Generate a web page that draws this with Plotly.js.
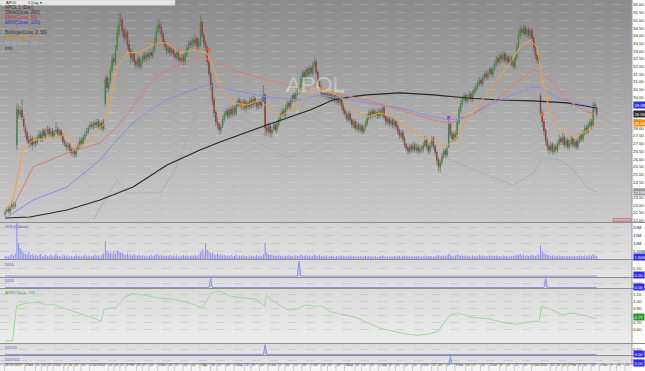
<!DOCTYPE html>
<html><head><meta charset="utf-8">
<script src="https://cdn.plot.ly/plotly-3.0.1.min.js"></script>
<style>
html,body{margin:0;padding:0;background:#fff;}
#chart{width:645px;height:371px;background:
 linear-gradient(to right, rgba(255,255,255,0) 632px, #ffffff 632px),
 linear-gradient(to bottom, #8b8b8b 0px, #cacaca 222px, #d2d2d2 222px, #e0e0e0 259px, #d8d8d8 259px, #e3e3e3 277px, #d8d8d8 277px, #e3e3e3 288px, #dadada 288px, #ececec 343px, #dadada 343px, #e6e6e6 355px, #dadada 355px, #e6e6e6 364px, #f3f3f3 364px);}
</style></head><body><div id="chart"></div>
<script>
// ---------- daily prices (trading-day index 0..348) ----------
const opens = [
22.40,22.60,22.75,22.55,22.90,23.00,22.95,26.90,29.20,28.85,
29.20,28.60,28.05,27.75,27.25,26.95,27.35,26.95,27.15,27.05,
27.35,27.65,27.25,27.85,27.45,27.75,27.95,27.55,27.85,27.45,
27.75,27.95,27.55,27.85,27.55,27.15,26.95,26.75,26.95,26.65,
26.35,26.55,26.25,26.65,26.85,27.25,26.95,27.35,27.65,27.75,
28.05,28.25,28.05,28.35,28.15,28.45,28.05,28.35,27.95,29.60,
31.30,30.55,31.05,31.75,32.55,32.25,33.15,34.10,34.85,35.05,
34.35,33.85,34.25,33.45,33.05,32.45,32.85,32.35,32.05,32.55,
31.95,32.35,32.75,32.45,32.85,32.55,32.95,32.65,33.05,33.55,
34.25,34.75,34.55,34.15,33.65,33.35,32.95,33.25,32.85,33.15,
32.85,32.55,32.95,32.55,32.35,32.65,32.25,32.75,33.15,33.55,
33.35,33.75,33.45,33.85,33.25,33.40,34.90,34.05,33.55,33.25,
32.35,31.55,30.85,29.85,29.05,28.45,28.25,27.85,28.15,28.55,
28.85,29.15,28.75,29.25,28.85,29.35,28.95,29.45,29.85,29.65,
29.35,29.75,29.25,29.65,29.35,29.85,29.45,29.95,29.65,29.35,
29.75,29.45,29.85,30.20,28.05,27.75,28.15,27.65,27.95,28.25,
27.85,28.25,28.55,28.85,29.15,28.85,29.25,29.65,29.35,29.75,
30.15,29.85,30.25,30.65,30.45,31.15,31.65,31.25,31.85,31.45,
31.95,31.55,32.05,32.35,31.65,31.05,30.65,30.15,30.45,30.05,
30.35,29.95,30.25,29.85,30.15,29.75,30.05,29.65,29.95,29.45,
29.15,28.95,28.55,28.95,28.55,28.15,28.45,27.95,28.25,27.85,
28.15,27.75,28.05,28.25,28.65,29.05,28.75,29.15,28.85,29.05,
28.75,29.15,28.85,29.35,28.75,28.35,28.65,28.25,28.55,28.15,
28.45,28.15,27.85,27.45,27.75,27.35,26.95,26.75,26.45,26.85,
26.55,26.95,26.55,26.85,26.45,26.75,26.55,26.85,27.25,26.85,
26.45,26.85,27.35,26.85,26.45,25.95,25.45,25.75,26.15,26.55,
26.25,26.80,28.25,27.65,27.25,27.65,27.45,28.35,29.15,29.55,
29.85,30.15,29.75,29.95,30.25,29.85,30.25,30.45,30.65,30.85,
31.15,30.85,31.25,31.55,31.25,31.55,31.85,31.45,31.85,32.15,
32.55,32.25,32.75,32.45,32.85,32.35,32.65,32.25,32.55,32.25,
31.95,32.55,33.25,33.95,34.45,34.15,34.55,34.05,34.45,33.95,
34.35,33.85,33.25,32.75,32.35,30.10,29.05,28.45,27.85,27.25,
26.85,26.55,26.95,26.45,26.85,26.55,26.95,27.35,27.05,27.45,
26.85,27.25,26.75,26.95,27.35,26.85,27.15,26.75,27.15,27.55,
27.25,27.65,28.05,27.75,28.15,28.45,28.20,29.55,29.35];
const highs = [
22.70,22.85,22.90,23.00,23.30,23.20,23.25,29.60,29.50,29.40,
29.85,28.80,28.20,27.90,27.50,27.60,27.50,27.40,27.35,27.60,
27.85,27.80,28.00,28.00,27.95,28.15,28.10,28.00,28.00,27.90,
28.40,28.10,28.00,27.95,27.70,27.30,27.10,27.10,27.05,26.80,
26.75,26.70,26.80,27.10,27.40,27.40,27.60,27.80,28.00,28.20,
28.40,28.45,28.50,28.50,28.60,28.60,28.50,28.50,28.60,31.40,
31.50,31.30,32.10,32.80,32.90,33.40,34.60,35.40,35.50,35.20,
34.60,34.50,34.40,33.70,33.20,33.10,33.00,32.50,32.80,32.70,
32.60,32.90,32.95,33.00,33.00,33.10,33.10,33.30,33.90,34.60,
35.10,35.00,34.80,34.30,33.80,33.50,33.40,33.40,33.30,33.30,
33.00,33.10,33.10,32.70,32.80,32.80,33.00,33.40,33.70,33.70,
33.90,33.90,34.00,33.95,33.80,35.30,35.00,34.20,33.70,33.40,
32.50,31.70,31.00,30.00,29.20,28.70,28.40,28.30,28.80,29.10,
29.30,29.30,29.40,29.40,29.50,29.50,29.70,30.00,30.00,29.80,
29.90,29.90,29.80,29.80,30.00,30.00,30.10,30.10,29.80,29.90,
29.90,30.00,30.80,30.30,28.30,28.40,28.30,28.10,28.40,28.40,
28.50,28.80,29.00,29.30,29.30,29.50,29.80,29.80,30.00,30.30,
30.30,30.50,30.80,30.80,31.40,31.80,31.80,32.00,32.00,32.10,
32.10,32.30,32.60,32.45,31.80,31.20,30.80,30.60,30.60,30.50,
30.50,30.40,30.40,30.30,30.30,30.20,30.20,30.10,30.10,29.60,
29.30,29.10,29.10,29.10,28.70,28.60,28.60,28.40,28.40,28.30,
28.30,28.20,28.50,28.90,29.20,29.20,29.30,29.30,29.20,29.20,
29.30,29.30,29.60,29.50,28.90,28.80,28.80,28.70,28.70,28.60,
28.60,28.30,28.00,27.90,27.90,27.50,27.10,26.90,27.00,27.00,
27.10,27.10,27.00,27.00,26.90,26.90,27.10,27.50,27.40,27.00,
27.10,27.50,27.50,27.00,26.60,26.10,26.00,26.40,26.70,26.70,
26.90,28.60,28.40,27.80,27.80,27.80,28.60,29.40,29.80,30.10,
30.30,30.30,30.20,30.40,30.40,30.50,30.70,30.90,31.10,31.30,
31.30,31.50,31.70,31.70,31.80,32.00,32.00,32.10,32.40,32.70,
32.70,32.90,32.90,33.00,33.00,32.80,32.80,32.70,32.70,32.40,
32.80,33.50,34.30,34.70,34.60,34.70,34.70,34.60,34.60,34.50,
34.50,34.00,33.40,32.90,32.80,30.30,29.20,28.60,28.00,27.40,
27.00,27.10,27.10,27.00,27.00,27.20,27.60,27.50,27.70,27.60,
27.40,27.40,27.20,27.50,27.50,27.30,27.30,27.40,27.70,27.70,
27.90,28.20,28.20,28.40,28.60,28.60,29.70,29.70,29.50];
const lows = [
22.25,22.45,22.45,22.40,22.80,22.75,22.80,26.60,28.60,28.70,
28.50,27.90,27.40,27.00,26.70,26.80,26.60,26.80,26.75,26.90,
27.20,27.10,27.10,27.30,27.30,27.60,27.40,27.40,27.30,27.30,
27.60,27.40,27.40,27.30,26.90,26.80,26.55,26.55,26.35,26.20,
26.15,26.05,26.10,26.50,26.70,26.80,26.85,27.20,27.50,27.60,
27.90,27.95,27.90,28.00,28.00,27.90,27.90,27.80,27.80,29.40,
30.30,30.40,30.90,31.60,32.00,32.10,33.00,33.90,34.60,34.00,
33.60,33.70,33.10,32.80,32.20,32.30,32.00,31.80,31.90,31.80,
31.80,32.20,32.30,32.30,32.40,32.40,32.50,32.50,32.90,33.40,
34.10,34.20,33.90,33.40,33.10,32.80,32.80,32.70,32.70,32.60,
32.40,32.40,32.30,32.20,32.20,32.10,32.10,32.60,33.00,33.20,
33.20,33.30,33.30,33.10,33.10,33.30,33.80,33.30,33.00,32.10,
31.30,30.50,29.50,28.70,28.10,27.90,27.60,27.60,28.00,28.40,
28.70,28.60,28.60,28.70,28.70,28.80,28.80,29.30,29.40,29.20,
29.20,29.10,29.10,29.20,29.20,29.30,29.30,29.40,29.20,29.20,
29.30,29.30,29.70,27.50,27.50,27.60,27.40,27.40,27.80,27.70,
27.70,28.10,28.40,28.70,28.70,28.70,29.10,29.20,29.20,29.60,
29.70,29.70,30.10,30.20,30.30,31.00,31.10,31.10,31.30,31.30,
31.40,31.40,31.90,31.40,30.80,30.40,30.00,30.00,29.90,29.90,
29.80,29.80,29.70,29.70,29.60,29.60,29.50,29.50,29.20,28.90,
28.70,28.40,28.40,28.30,28.00,28.00,27.80,27.80,27.70,27.70,
27.60,27.60,27.90,28.10,28.50,28.60,28.60,28.70,28.70,28.60,
28.60,28.70,28.70,28.50,28.20,28.20,28.10,28.10,28.00,28.00,
27.90,27.60,27.30,27.30,27.10,26.70,26.50,26.30,26.30,26.40,
26.40,26.40,26.40,26.30,26.30,26.40,26.40,26.70,26.60,26.30,
26.30,26.70,26.60,26.20,25.60,25.20,25.10,25.60,26.00,26.10,
26.10,26.70,27.40,27.10,27.10,27.20,27.30,28.20,29.00,29.40,
29.70,29.60,29.60,29.80,29.70,29.70,30.10,30.30,30.50,30.70,
30.70,30.70,31.10,31.10,31.10,31.40,31.30,31.30,31.70,32.00,
32.10,32.10,32.30,32.30,32.20,32.20,32.10,32.10,32.00,31.80,
31.80,32.40,33.10,33.80,34.00,34.00,33.90,33.90,33.80,33.80,
33.60,33.00,32.50,32.20,32.20,28.80,28.10,27.50,26.90,26.50,
26.30,26.40,26.30,26.30,26.40,26.40,26.80,26.90,26.90,26.70,
26.70,26.60,26.60,26.80,26.70,26.70,26.60,26.60,27.00,27.10,
27.10,27.50,27.60,27.60,28.00,27.90,28.10,29.00,28.70];
const closes = [
22.55,22.70,22.60,22.85,23.05,22.90,23.10,29.30,28.90,29.10,
28.70,28.10,27.70,27.20,27.00,27.30,26.90,27.10,27.00,27.40,
27.60,27.30,27.80,27.50,27.70,27.90,27.60,27.80,27.50,27.70,
27.90,27.60,27.80,27.50,27.10,27.00,26.80,26.90,26.60,26.40,
26.50,26.30,26.60,26.90,27.20,27.00,27.40,27.60,27.80,28.00,
28.20,28.10,28.30,28.20,28.40,28.10,28.30,28.00,28.40,31.20,
30.60,31.00,31.80,32.50,32.30,33.10,34.20,34.80,35.00,34.30,
33.90,34.20,33.40,33.00,32.50,32.80,32.30,32.10,32.50,32.00,
32.40,32.70,32.50,32.80,32.60,32.90,32.70,33.00,33.60,34.30,
34.70,34.50,34.10,33.60,33.30,33.00,33.20,32.90,33.10,32.80,
32.60,32.90,32.50,32.40,32.60,32.30,32.80,33.20,33.50,33.40,
33.70,33.50,33.80,33.30,33.60,35.00,34.00,33.50,33.20,32.30,
31.50,30.80,29.80,29.00,28.40,28.20,27.90,28.10,28.60,28.90,
29.10,28.80,29.20,28.90,29.30,29.00,29.50,29.80,29.60,29.40,
29.70,29.30,29.60,29.40,29.80,29.50,29.90,29.60,29.40,29.70,
29.50,29.80,30.20,28.00,27.80,28.10,27.70,27.90,28.20,27.90,
28.30,28.60,28.80,29.10,28.90,29.30,29.60,29.40,29.80,30.10,
29.90,30.30,30.60,30.40,31.20,31.60,31.30,31.80,31.50,31.90,
31.60,32.10,32.30,31.60,31.00,30.60,30.20,30.40,30.10,30.30,
30.00,30.20,29.90,30.10,29.80,30.00,29.70,29.90,29.40,29.10,
28.90,28.60,28.90,28.50,28.20,28.40,28.00,28.20,27.90,28.10,
27.80,28.00,28.30,28.70,29.00,28.80,29.10,28.90,29.00,28.80,
29.10,28.90,29.30,28.70,28.40,28.60,28.30,28.50,28.20,28.40,
28.10,27.80,27.50,27.70,27.30,26.90,26.70,26.50,26.80,26.60,
26.90,26.60,26.80,26.50,26.70,26.60,26.90,27.20,26.80,26.50,
26.90,27.30,26.80,26.40,25.90,25.50,25.80,26.20,26.50,26.30,
26.70,28.30,27.60,27.30,27.60,27.40,28.40,29.20,29.60,29.90,
30.10,29.80,30.00,30.20,29.90,30.30,30.50,30.70,30.90,31.10,
30.90,31.30,31.50,31.30,31.60,31.80,31.50,31.90,32.20,32.50,
32.30,32.70,32.50,32.80,32.40,32.60,32.30,32.50,32.20,32.00,
32.60,33.30,34.00,34.40,34.20,34.50,34.10,34.40,34.00,34.30,
33.80,33.20,32.70,32.40,32.60,29.00,28.40,27.80,27.20,26.80,
26.60,26.90,26.50,26.80,26.60,27.00,27.30,27.10,27.40,26.90,
27.20,26.80,27.00,27.30,26.90,27.10,26.80,27.20,27.50,27.30,
27.70,28.00,27.80,28.20,28.40,28.10,29.50,29.30,28.90];
// volume in millions
const volumes = [
1.8,2.1,1.6,2.4,3.0,2.2,3.6,23.0,10.2,7.1,
5.3,4.1,3.4,2.9,4.6,2.5,3.2,2.1,2.7,1.9,
2.4,3.1,1.8,2.2,2.6,1.7,2.0,2.8,1.6,2.3,
3.4,1.9,2.1,1.5,2.6,2.2,1.8,2.4,1.6,2.0,
1.4,1.9,2.5,1.7,2.2,1.5,2.0,2.7,1.8,2.3,
1.6,2.1,1.9,2.8,1.7,2.4,1.5,2.9,3.6,11.5,
5.2,3.8,4.3,3.1,4.6,3.3,5.4,4.8,3.9,4.2,
3.1,2.6,3.5,2.4,2.9,2.1,3.3,2.2,1.9,2.7,
2.0,2.5,1.8,2.3,1.7,2.1,2.6,1.9,2.4,3.2,
2.8,2.2,2.6,1.9,2.3,1.7,2.0,2.5,1.6,2.2,
1.8,2.4,1.5,2.1,1.7,2.6,1.9,2.3,1.6,2.0,
2.2,1.8,2.5,1.7,2.9,4.4,6.3,4.1,10.0,5.8,
4.9,3.6,4.2,3.3,2.8,3.5,2.4,2.9,2.2,2.6,
1.9,2.3,1.7,2.5,1.8,2.1,2.7,1.6,2.2,1.9,
2.4,1.7,2.0,1.5,2.3,1.8,2.1,1.6,2.5,1.9,
2.2,1.8,3.1,10.5,4.4,3.0,2.5,2.8,2.1,2.4,
1.9,2.6,2.0,2.3,1.7,2.2,1.9,2.5,1.8,2.1,
1.6,2.4,2.0,1.8,2.7,2.2,1.9,2.6,1.7,2.3,
1.8,2.1,2.5,2.2,1.9,2.4,1.7,2.0,1.6,2.2,
1.5,1.9,1.7,2.1,1.4,1.8,1.6,2.0,2.3,1.7,
1.9,1.5,1.8,2.2,1.6,1.9,1.4,1.8,1.6,2.0,
1.5,1.7,2.1,1.6,1.9,1.4,1.8,1.5,1.7,1.3,
1.6,1.9,2.3,1.7,1.5,1.8,1.4,1.7,1.5,1.9,
1.6,1.8,2.1,1.5,1.9,2.2,1.7,2.0,1.6,1.8,
1.5,1.9,1.6,2.1,1.7,1.5,1.8,2.2,1.6,1.9,
1.7,2.0,1.5,1.8,2.3,2.6,2.0,1.8,2.2,1.7,
2.4,3.3,2.5,2.0,1.8,2.2,2.9,2.6,2.1,2.4,
1.9,2.2,1.7,2.0,1.6,2.3,1.8,2.1,1.7,2.5,
1.9,2.2,1.6,2.0,1.8,2.4,1.7,2.1,1.9,2.3,
1.8,2.0,1.6,2.2,1.7,1.9,1.5,2.1,1.8,2.0,
2.3,2.8,2.5,3.4,2.2,2.9,2.0,2.4,1.9,2.1,
2.6,2.3,2.0,2.4,3.2,8.6,5.0,3.8,3.1,2.7,
2.4,2.0,2.3,1.8,2.1,1.7,2.2,1.9,2.0,1.6,
1.9,1.7,2.1,1.6,1.8,2.0,1.5,1.9,2.2,1.7,
2.0,2.3,1.8,2.1,2.4,1.9,3.0,2.2,1.8];
// weekly date labels (first trading day of each week)
const tickLabels = ["28 Oct 2013","4 Nov","11","18","25","2 Dec","9","16","23","30","6 Jan 2014","13","20","27","3 Feb","10","17","24","3 Mar","10","17","24","31","7 Apr","14","21","28","5 May","12","19","26","2 Jun","9","16","23","30","7 Jul","14","21","28","4 Aug","11","18","25","1 Sep","8","15","22","29","6 Oct","13","20","27","3 Nov","10","17","24","1 Dec","8","15","22","29","5 Jan 2015","12","19","26","2 Feb","9","16","23","2 Mar","9","16","23"];
// ---------- indicator lines (index, value) ----------
const sma200Idx = [0,14.7,36.5,55.9,75.3,95.3,114.7,126.5,154.1,179.4,192.9,202.9,212.9,232.4,251.8,271.8,291.2,310.6,330.6,348];
const sma200Val = [22.17,22.23,22.69,23.34,24.18,25.61,26.58,27.10,28.21,29.18,29.83,30.03,30.16,30.29,30.16,29.96,29.83,29.77,29.64,29.31];
const sma50Idx = [2.9,16.5,36.5,55.9,65.9,75.3,85.3,95.3,104.7,114.7,122.4,134.1,154.1,173.5,192.9,212.9,232.4,251.8,261.8,271.8,291.2,302.9,310.6,314.7,322.4,330.6,340,348];
const sma50Val = [22.49,25.48,26.39,27.04,28.08,29.38,30.94,31.78,32.23,32.56,32.43,31.78,31.13,30.61,30.29,29.83,29.18,28.53,28.34,28.73,30.03,31.13,31.78,31.65,30.94,29.83,29.18,28.86];
const ema100Idx = [1.2,16.5,36.5,55.9,65.9,75.3,85.3,95.3,107.1,118.8,134.1,154.1,173.5,185.3,192.9,212.9,232.4,251.8,261.8,271.8,291.2,310.6,314.7,324.7,334.1,348];
const ema100Val = [22.23,23.34,24.18,25.94,27.23,28.34,29.18,29.83,30.35,30.81,30.48,30.03,29.83,30.16,30.03,29.64,29.31,28.73,28.53,28.73,29.83,30.68,30.61,30.03,29.64,29.38];
const ema10Idx = [0,4.7,10.6,16.5,26.5,36.5,42.4,48.2,55.9,58.8,61.8,65.9,71.8,79.4,89.4,95.3,102.9,110.6,118.8,122.4,126.5,134.1,142.4,150,155.9,161.8,169.4,177.6,183.5,189.4,197.1,207.1,212.9,220.6,228.2,236.5,244.1,251.8,257.6,263.5,269.4,277.6,289.4,297.1,302.9,308.8,312.9,316.5,320.6,326.5,334.1,340,345.9,348];
const ema10Val = [22.70,23.34,26.58,27.23,27.36,27.56,26.78,27.04,28.01,28.34,29.83,31.97,32.88,32.95,33.53,33.53,32.88,33.08,32.88,31.97,30.68,29.64,29.51,29.83,29.18,28.73,29.38,30.03,30.68,30.48,30.03,28.99,28.73,28.99,28.73,28.08,27.43,27.23,26.78,27.10,28.08,29.38,31.13,32.23,33.27,33.73,33.27,30.94,28.99,28.08,27.43,27.69,28.08,28.34];
const bbLowIdx = [51.8,65.9,71.8,91.2,100,108.8,114.7,126.5,134.1,145.9,160,167.6,173.5,181.2,192.9,212.9,232.4,251.8,271.8,291.2,298.8,310.6,316.5,326.5,334.1,342.4,348];
const bbLowVal = [22.03,24.64,23.79,23.79,25.29,27.88,29.51,29.18,28.08,27.23,26.39,26.06,26.39,27.04,27.36,27.43,27.23,26.39,25.48,24.64,24.31,25.09,26.06,25.94,25.29,24.18,23.86];
const atrIdx = [0,4.4,6.8,11.6,18.9,23.8,28.6,33.5,38.4,45.6,52.9,56.6,58.3,65.1,70,74.8,82.1,89.4,99.2,108.8,116.2,118.6,121,125.9,133.2,140.5,147.8,152.6,153.8,157.5,162.4,167.2,172.1,176.9,181.8,186.6,191.5,198.8,206.1,213.4,220.7,228,235.3,242.6,249.9,254.7,259.6,262,266.9,274.1,283.9,293.6,300.9,305.8,310.6,314.3,315.5,320.4,327.6,334.9,342.2,347,348];
const atrVal = [0.432,0.432,0.932,0.972,0.992,0.952,0.952,0.912,0.872,0.812,0.752,0.712,0.892,0.912,1.052,1.112,1.092,1.052,1.032,0.972,0.912,1.012,1.112,1.152,1.072,1.052,1.032,0.932,1.092,1.012,0.932,0.872,0.892,0.952,0.932,0.932,0.852,0.812,0.772,0.692,0.612,0.572,0.532,0.512,0.532,0.572,0.732,0.812,0.832,0.772,0.752,0.692,0.672,0.692,0.712,0.712,0.932,0.892,0.812,0.832,0.792,0.752,0.77];
// event-detector panels (0 / 1 pulses)
const dd1Idx = [0,172,173,174,348],   dd1Val = [0,0,1,0,0];
const dd2Idx = [0,120,121,122,317,318,319,348], dd2Val = [0,0,1,0,0,1,0,0];
const ddv0Idx = [0,152,153,154,348],  ddv0Val = [0,0,1,0,0];
const ddv02Idx = [0,261,262,263,348], ddv02Val = [0,0,1,0,0];
// signal markers on the price panel
const sigOrangeIdx = [120,316], sigOrangeVal = [33.10,28.90];
const sigPlusIdx = [140], sigPlusVal = [29.50];
const sigBlueIdx = [152], sigBlueVal = [29.80];
const sigGreenIdx = [172], sigGreenVal = [29.10];
const sigMagIdx = [261], sigMagVal = [28.70];

// ---------- build ----------
const FONT = 'Liberation Sans, Arial, sans-serif';
const UP = '#2f9f2f', DOWN = '#a82626';
const N = closes.length;
const idx = closes.map((_, i) => i);
const wx = [], wy = [];
for (let i = 0; i < N; i++) { wx.push(i, i, null); wy.push(lows[i], highs[i], null); }
const bodyBase = idx.map(i => Math.min(opens[i], closes[i]));
const bodyLen = idx.map(i => Math.abs(closes[i] - opens[i]));
const bodyCol = idx.map(i => closes[i] >= opens[i] ? UP : DOWN);

const PH = 364, PW = 632;
const XR = [-2.94, 368.8];
const UNIT = PW / (XR[1] - XR[0]);   // px per trading day
const py = p => 1 - p / PH;
const pxp = p => p / PW;

// date labels: weekly positions, pushed right when a longer label before them would collide
const TICKFS = 3.0, CHARW = 1.62, GAP = 2.6;
const tickPos = [];
let nextFree = -Infinity;
tickLabels.forEach((t, k) => {
  const natural = k * 5;
  const pos = Math.max(natural, nextFree);
  tickPos.push(pos);
  nextFree = pos + (t.length * CHARW + GAP) / UNIT;
});

const line = (x, y, color, width, yaxis, extra) => Object.assign({type:'scatter', mode:'lines', x, y, xaxis:'x', yaxis, line:{color, width}, hoverinfo:'skip'}, extra || {});

const traces = [
  line(bbLowIdx, bbLowVal, '#a9a9a9', 0.8, 'y'),
  line(wx, wy, '#6a6a6a', 0.7, 'y'),
  {type:'bar', x: idx, y: bodyLen, base: bodyBase, width: 0.9, xaxis:'x', yaxis:'y', marker:{color: bodyCol, line:{width:0}}, hoverinfo:'skip'},
  line(sma200Idx, sma200Val, '#262626', 1.1, 'y'),
  line(ema100Idx, ema100Val, '#8a8ae6', 1, 'y'),
  line(sma50Idx, sma50Val, '#dc7c72', 1, 'y'),
  line(ema10Idx, ema10Val, '#f2a23a', 1, 'y'),
  {type:'scatter', mode:'markers', x: sigOrangeIdx, y: sigOrangeVal, xaxis:'x', yaxis:'y', marker:{symbol:'circle', size:3.5, color:'#e8662a'}, hoverinfo:'skip'},
  {type:'scatter', mode:'markers', x: sigPlusIdx, y: sigPlusVal, xaxis:'x', yaxis:'y', marker:{symbol:'cross', size:3.5, color:'#f09030'}, hoverinfo:'skip'},
  {type:'scatter', mode:'markers', x: sigBlueIdx, y: sigBlueVal, xaxis:'x', yaxis:'y', marker:{symbol:'circle', size:3.5, color:'#4a6cf0'}, hoverinfo:'skip'},
  {type:'scatter', mode:'markers', x: sigGreenIdx, y: sigGreenVal, xaxis:'x', yaxis:'y', marker:{symbol:'circle', size:3, color:'#9be05a'}, hoverinfo:'skip'},
  {type:'scatter', mode:'markers', x: sigMagIdx, y: sigMagVal, xaxis:'x', yaxis:'y', marker:{symbol:'square', size:3, color:'#e020d0'}, hoverinfo:'skip'},
  {type:'bar', x: idx, y: volumes, width: 0.6, xaxis:'x', yaxis:'y2', marker:{color:'#8d8df0', line:{width:0}}, hoverinfo:'skip'},
  line(dd1Idx, dd1Val, '#8f8fe8', 1, 'y3', {fill:'tozeroy', fillcolor:'rgba(170,170,240,0.5)'}),
  line(dd2Idx, dd2Val, '#8f8fe8', 1, 'y4', {fill:'tozeroy', fillcolor:'rgba(170,170,240,0.5)'}),
  line(atrIdx, atrVal, '#a3d6a0', 1, 'y5'),
  line(ddv0Idx, ddv0Val, '#8f8fe8', 1, 'y6', {fill:'tozeroy', fillcolor:'rgba(170,170,240,0.5)'}),
  line(ddv02Idx, ddv02Val, '#8f8fe8', 1, 'y7', {fill:'tozeroy', fillcolor:'rgba(170,170,240,0.5)'})
];

const gridMain = {showgrid:true, gridcolor:'rgba(255,255,255,0.28)', griddash:'dash', gridwidth:0.6};
const gridSub = {showgrid:true, gridcolor:'rgba(150,150,150,0.45)', griddash:'dash', gridwidth:0.6};
const yBase = {side:'right', anchor:'x', zeroline:false, showline:false, ticks:'', fixedrange:true,
  tickfont:{family:FONT, size:4.3, color:'#222'}, automargin:false};

const layout = {
  width:645, height:371,
  margin:{l:0, r:13, t:0, b:7, pad:0},
  paper_bgcolor:'rgba(0,0,0,0)', plot_bgcolor:'rgba(0,0,0,0)',
  showlegend:false, barmode:'overlay', hovermode:false,
  font:{family:FONT, size:4.5, color:'#222'},
  xaxis:{range:XR, anchor:'y7', tickvals: tickPos, ticktext: tickLabels,
    ticks:'', tickangle:0, ticklabelposition:'outside right', ticklabelstandoff:-2, tickfont:{family:FONT, size:TICKFS, color:'#333'},
    showgrid:false, zeroline:false, showline:false, fixedrange:true, automargin:false},
  yaxis: Object.assign({}, yBase, gridMain, {domain:[py(222), 1], range:[21.91, 36.32], dtick:0.5, tick0:0, tickformat:'.2f'}),
  yaxis2: Object.assign({}, yBase, gridSub, {domain:[py(259), py(223)], range:[0, 23.2], tickvals:[5,10,15,20], ticktext:['5.00M','10M','15M','20M']}),
  yaxis3: Object.assign({}, yBase, gridSub, {domain:[py(277), py(260)], range:[-0.06, 1.06], tickvals:[0.5], ticktext:['0.50']}),
  yaxis4: Object.assign({}, yBase, gridSub, {domain:[py(288), py(278)], range:[-0.06, 1.06], tickvals:[0.5], ticktext:['0.50']}),
  yaxis5: Object.assign({}, yBase, gridSub, {domain:[py(343), py(289)], range:[0.40, 1.18], tickvals:[0.6,0.7,0.8,0.9,1.0,1.1], tickformat:'.2f'}),
  yaxis6: Object.assign({}, yBase, gridSub, {domain:[py(355), py(344)], range:[-0.06, 1.06], tickvals:[0.5], ticktext:['0.50']}),
  yaxis7: Object.assign({}, yBase, gridSub, {domain:[0, py(356)], range:[-0.06, 1.06], tickvals:[0.5], ticktext:['0.50']}),
  shapes: [], annotations: []
};

// panel separators and frame
[222.5, 259.5, 277.5, 288.5, 343.5, 355.5, 364].forEach(p => layout.shapes.push({type:'line', xref:'paper', yref:'paper', x0:0, x1:645/PW, y0:py(p), y1:py(p), line:{color:'#8e8e8e', width:1}, layer:'above'}));
layout.shapes.push({type:'line', xref:'paper', yref:'paper', x0:1, x1:1, y0:0, y1:1, line:{color:'#9a9a9a', width:1}, layer:'above'});
// small separators between date labels
tickPos.forEach(p => layout.shapes.push({type:'line', xref:'x', yref:'paper', x0:p - 0.35, x1:p - 0.35, y0:py(365), y1:py(370.5), line:{color:'#9a9a9a', width:0.5}, layer:'above'}));
// toolbar strip and small pink box
layout.shapes.push({type:'rect', xref:'paper', yref:'paper', x0:0, x1:pxp(175), y0:py(5.2), y1:1, fillcolor:'#e6e6e6', line:{color:'#c8c8c8', width:0.5}, layer:'above'});
layout.shapes.push({type:'rect', xref:'paper', yref:'paper', x0:pxp(613), x1:pxp(631), y0:py(221.5), y1:py(218.5), fillcolor:'#dfa8a8', line:{color:'#a86a6a', width:0.6}, layer:'above'});

const note = (text, xpx, ypx, color, size, extra) => layout.annotations.push(Object.assign({text, xref:'paper', yref:'paper', x:pxp(xpx), y:py(ypx), xanchor:'left', yanchor:'middle', showarrow:false, font:{family:FONT, size: size || 4.6, color}}, extra || {}));
// toolbar text
note('APOL', 4, 2.6, '#222', 4);
note('1 Day \u25BE', 26, 2.6, '#222', 4);
// legend block
note('APOL 1 (Day)', 3, 7.6, '#333');
note('SMA(Close, 200)', 3, 12.4, '#333');
note('SMA(Close, 50)', 3, 17.2, '#c83030');
note('EMA(Close, 100)', 3, 22.4, '#3434c8');
note('Bollinger(Low, 2, 50)', 3, 32.8, '#333');
note('EMA(Close, 10)', 3, 38, '#e08a10');
note('SMA(Close, 20)', 3, 43.2, '#b0b0b0');
note('Info', 3, 48.4, '#333');
// watermark
note('APOL', 315, 84, 'rgba(222,222,222,0.55)', 22, {xanchor:'center'});
note('Apollo Group Inc', 315, 90, 'rgba(222,222,222,0.55)', 8, {xanchor:'center'});
// panel titles
note('VOL(Close)', 3, 226.5, '#5050c8', 4.4);
note('DD1', 3, 264, '#5050c8', 4.4);
note('DD2', 3, 280.5, '#5050c8', 4.4);
note('ATR(Close, 20)', 3, 292, '#4a9a4a', 4.4);
note('DDV0', 3, 347.5, '#5050c8', 4.4);
note('DDV02', 3, 359, '#5050c8', 4.4);

// value boxes on the right axis
const box = (text, yref, yval, bg, fg, shift) => layout.annotations.push({text, xref:'paper', x:1.002, yref, y:yval, yshift: shift || 0, xanchor:'left', yanchor:'middle', showarrow:false, bgcolor:bg, borderpad:0.5, font:{family:FONT, size:4.2, color:fg}});
box(ema100Val[ema100Val.length-1].toFixed(2), 'y', ema100Val[ema100Val.length-1], '#2a2af0', '#fff', 1.5);
box(closes[N-1].toFixed(2), 'y', closes[N-1], '#2a2a2a', '#fff', 0);
box(ema10Val[ema10Val.length-1].toFixed(2), 'y', ema10Val[ema10Val.length-1], '#f08c10', '#fff', 0);
box(bbLowVal[bbLowVal.length-1].toFixed(2), 'y', bbLowVal[bbLowVal.length-1], '#9a9a9a', '#fff', 0);
box(volumes[N-1].toFixed(2) + 'M', 'y2', 1.2, '#2a2af0', '#fff', 0);
box('0.00', 'y3', 0.05, '#2a2af0', '#fff', 0);
box('0.00', 'y4', 0.05, '#2a2af0', '#fff', 0);
box(atrVal[atrVal.length-1].toFixed(2), 'y5', atrVal[atrVal.length-1], '#2a9a2a', '#fff', 0);
box('0.00', 'y6', 0.05, '#2a2af0', '#fff', 0);
box('0.00', 'y7', 0.05, '#2a2af0', '#fff', 0);

Plotly.newPlot('chart', traces, layout, {staticPlot:true, displayModeBar:false});
</script></body></html>
